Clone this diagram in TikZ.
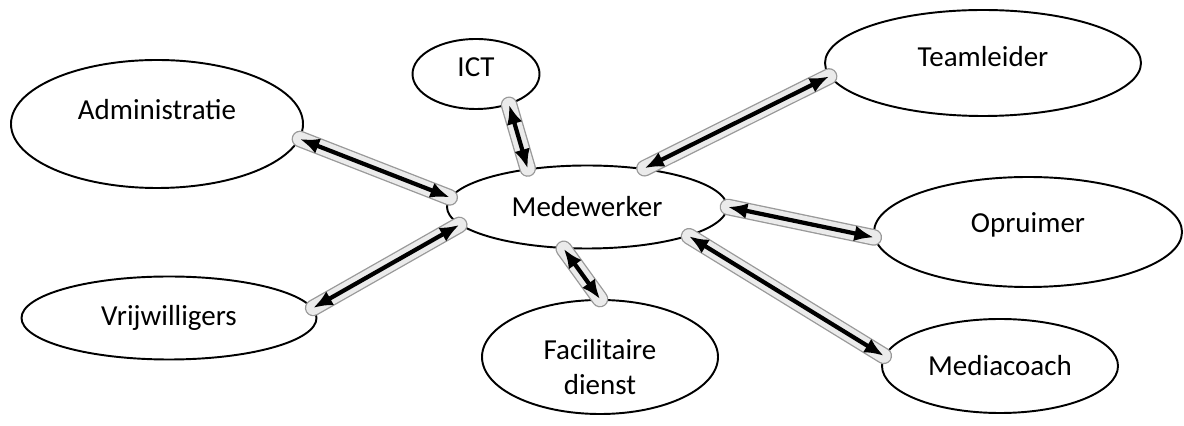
\documentclass[tikz,border=0pt]{standalone}
\usepackage{fontspec}
\setmainfont{Carlito}
\usetikzlibrary{shapes.geometric,arrows.meta}

\begin{document}
\begin{tikzpicture}[
		bubble/.style={ellipse, draw, line width=1.1pt, inner sep=0pt},
		tekst/.style={font=\fontsize{16.5}{19.5}\selectfont, align=center},
		pijl/.style={{Latex[length=11pt,width=9pt]}-{Latex[length=11pt,width=9pt]}, line width=2.4pt,
			preaction={draw=black!40, line width=9.5pt, line cap=round, -},
			preaction={draw=black!8, line width=8pt, line cap=round, -}}
	]
	\useasboundingbox (0, 0) rectangle (23.68, 8.52);
	% Midden
	\node [bubble, minimum width=5.6cm, minimum height=1.66cm, label={[tekst]center:Medewerker}] (med) at (11.74, 4.38) {};
	% Links
	\node [bubble, minimum width=5.84cm, minimum height=2.56cm, label={[tekst, yshift=0.28cm]center:Administratie}] (adm) at (3.14, 6.04) {};
	\node [bubble, minimum width=5.9cm, minimum height=1.66cm, label={[tekst]center:Vrijwilligers}] (vrij) at (3.38, 2.16) {};
	% Boven en onder
	\node [bubble, minimum width=2.54cm, minimum height=1.4cm, label={[tekst, yshift=0.14cm]center:ICT}] (ict) at (9.52, 7.04) {};
	\node [bubble, minimum width=4.72cm, minimum height=2.28cm, label={[tekst, yshift=-0.2cm]center:Facilitaire\\dienst}] (fac) at (12.0, 1.38) {};
	% Rechts
	\node [bubble, minimum width=6.32cm, minimum height=2.12cm, label={[tekst, yshift=0.12cm]center:Teamleider}] (team) at (19.66, 7.26) {};
	\node [bubble, minimum width=6.16cm, minimum height=2.2cm, label={[tekst, yshift=0.14cm]center:Opruimer}] (opr) at (20.56, 3.88) {};
	\node [bubble, minimum width=4.72cm, minimum height=1.88cm, label={[tekst]center:Mediacoach}] (media) at (20.0, 1.2) {};
	% Pijlen
	\draw [pijl] (adm.-6) -- (med.176);
	\draw [pijl] (ict.-43) -- (med.147);
	\draw [pijl] (team.185) -- (med.34);
	\draw [pijl] (med.0) -- (opr.182);
	\draw [pijl] (med.-16) -- (media.175);
	\draw [pijl] (med.-119) -- (fac.90);
	\draw [pijl] (vrij.4) -- (med.188);
\end{tikzpicture}
\end{document}
